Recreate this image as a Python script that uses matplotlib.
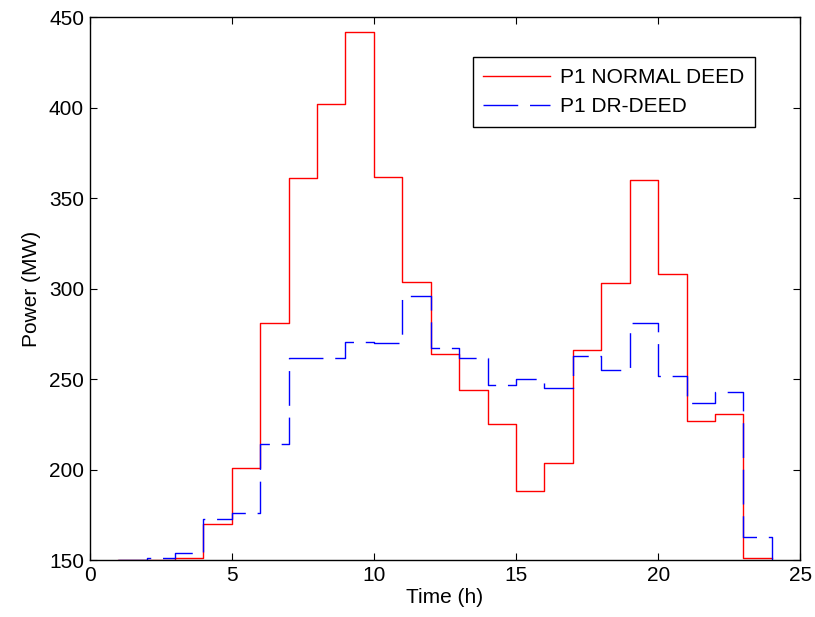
#stairs plot of P1 generation, normal vs demand response DEED
import matplotlib
matplotlib.use('Agg')
import matplotlib.pyplot as plt
import numpy as np

#data (one value per hour, 1..24)
hours = np.arange(1, 25)
p1_normal = [150, 150, 151, 170, 201, 281, 361, 402, 442, 362, 304, 264,
             244, 225, 188, 204, 266, 303, 360, 308, 227, 231, 151, 151]
p1_dr = [150, 151, 154, 173, 176, 214, 262, 262, 270.5, 269.8, 296, 267,
         262, 247, 250, 245, 263, 255, 281, 252, 237, 243, 163, 150]

plt.rcParams['font.family'] = ['Liberation Sans', 'DejaVu Sans']
plt.rcParams['font.size'] = 15

fig = plt.figure(figsize=(8.15, 6.17), dpi=100)
ax = fig.add_axes([0.110, 0.092, 0.872, 0.880])

ax.step(hours, p1_normal, where='post', color='red', linewidth=1.0, label='P1 NORMAL DEED')
ax.step(hours, p1_dr, where='post', color='blue', linewidth=1.0, dashes=(25, 8.5), label='P1 DR-DEED')

ax.set_xlim(0, 25)
ax.set_ylim(150, 450)
ax.set_xticks(np.arange(0, 26, 5))
ax.set_yticks(np.arange(150, 451, 50))
ax.set_xlabel('Time (h)', labelpad=2)
ax.set_ylabel('Power (MW)', labelpad=6)

#matlab-like axes: ticks inside on every side
ax.tick_params(direction='in', length=5, width=0.8, top=True, right=True, pad=4)
for spine in ax.spines.values():
    spine.set_linewidth(1.0)

leg = ax.legend(loc='upper left', bbox_to_anchor=(0.539, 0.926), handlelength=3.2,
                fancybox=False, framealpha=1, edgecolor='black', borderpad=0.5,
                labelspacing=0.5, handletextpad=0.5, borderaxespad=0)
leg.get_frame().set_linewidth(1.0)

fig.savefig('out.png', dpi=100)
